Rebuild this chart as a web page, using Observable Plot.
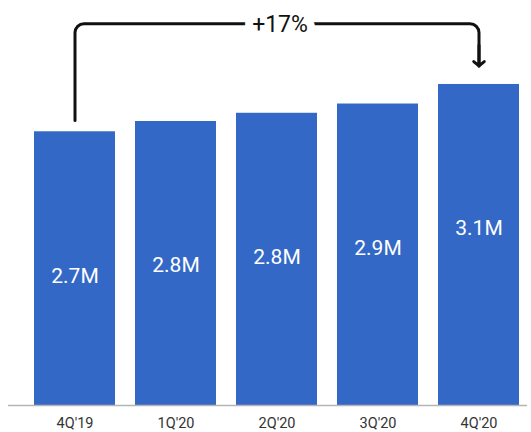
<!DOCTYPE html>
<html>
<head>
<meta charset="utf-8">
<script src="https://cdn.jsdelivr.net/npm/d3@7"></script>
<script src="https://cdn.jsdelivr.net/npm/@observablehq/plot@0.6"></script>
<style>
  html, body { margin: 0; padding: 0; background: #fff; }
  #chart svg { display: block; }
</style>
</head>
<body>
<div id="chart"></div>
<script>
// Data
const quarters = ["4Q'19", "1Q'20", "2Q'20", "3Q'20", "4Q'20"];
const users = [2.66, 2.76, 2.84, 2.93, 3.12];
const valueLabels = ["2.7M", "2.8M", "2.8M", "2.9M", "3.1M"];
const growthLabel = "+17%";
const growthLabelAt = "2Q'20";
// Bracket annotation path (from first to last quarter)
const bracketX = ["4Q'19", "4Q'19", "4Q'20", "4Q'20"];
const bracketY = [2.77, 3.71, 3.71, 3.30];

const bars = quarters.map((q, i) => ({q, v: users[i], label: valueLabels[i]}));
const bracket = bracketX.map((x, i) => ({x, y: bracketY[i]}));

// curve with rounded corners
function roundedCorners(r) {
  return (context) => {
    let pts = [];
    return {
      areaStart() {}, areaEnd() {},
      lineStart() { pts = []; },
      point(x, y) { pts.push([+x, +y]); },
      lineEnd() {
        if (!pts.length) return;
        context.moveTo(pts[0][0], pts[0][1]);
        for (let i = 1; i < pts.length - 1; i++) {
          context.arcTo(pts[i][0], pts[i][1], pts[i + 1][0], pts[i + 1][1], r);
        }
        const last = pts[pts.length - 1];
        context.lineTo(last[0], last[1]);
      }
    };
  };
}

const last = bracket[bracket.length - 1];

const chart = Plot.plot({
  width: 531,
  height: 432,
  marginLeft: 8,
  marginRight: 4,
  marginTop: 0,
  marginBottom: 27,
  style: {fontFamily: "Roboto, 'Liberation Sans', sans-serif", background: "#fff"},
  x: {domain: quarters, paddingInner: 0.2, paddingOuter: 0.154, align: 0.77, label: null},
  y: {domain: [0, 3.936], axis: null},
  marks: [
    Plot.barY(bars, {x: "q", y: "v", fill: "#3468c6"}),
    Plot.ruleY([0], {stroke: "#b5b5b5", strokeWidth: 1.5}),
    Plot.axisX({tickSize: 0, tickPadding: 12, fontSize: 14.5, fill: "#333", label: null}),
    Plot.text(bars, {x: "q", y: "v", text: "label", dy: 144, fill: "white", fontSize: 21, lineAnchor: "middle"}),
    Plot.line(bracket, {x: "x", y: "y", stroke: "#111", strokeWidth: 3, curve: roundedCorners(9), strokeLinejoin: "round"}),
    Plot.arrow([last], {x1: "x", x2: "x", y1: d => d.y + 0.2, y2: "y", stroke: "#111", strokeWidth: 3, headLength: 14, headAngle: 100}),
    Plot.text([growthLabel], {x: () => growthLabelAt, y: () => bracketY[1], text: d => d, dx: 3, dy: 1, fontSize: 23, fill: "#111", stroke: "white", strokeWidth: 16, strokeLinejoin: "round", lineAnchor: "middle"})
  ]
});
document.getElementById("chart").appendChild(chart);
</script>
</body>
</html>
